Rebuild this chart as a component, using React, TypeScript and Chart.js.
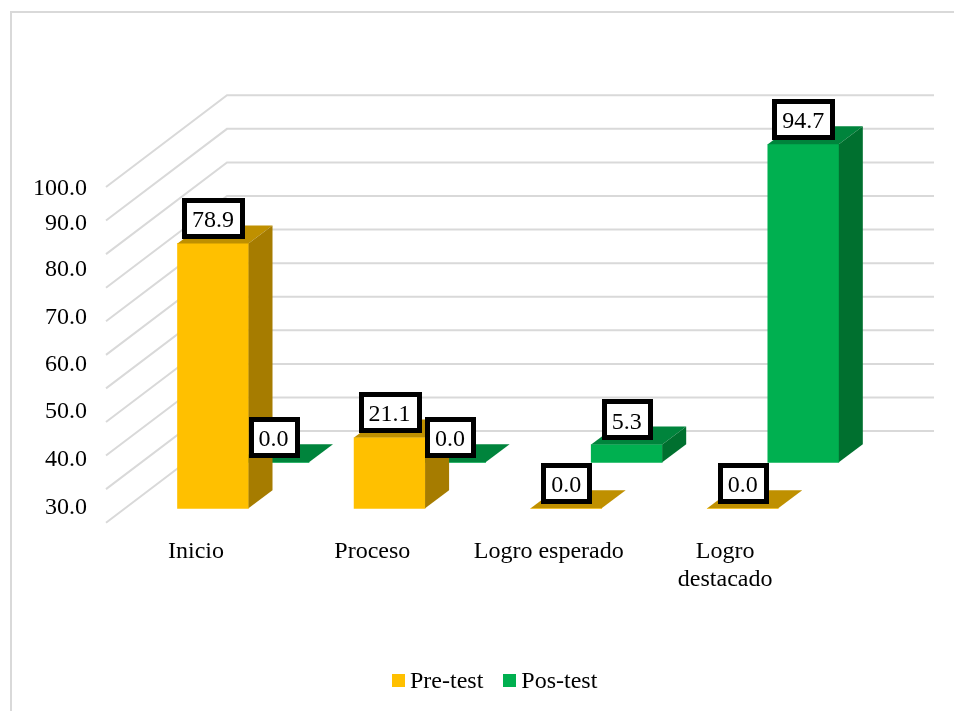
import { useEffect, useRef } from "react";
import { Chart, registerables } from "chart.js";

Chart.register(...registerables);

const categories: (string | string[])[] = ["Inicio", "Proceso", "Logro esperado", ["Logro", "destacado"]];
const preTest = [78.9, 21.1, 0.0, 0.0];
const posTest = [0.0, 0.0, 5.3, 94.7];
const axisLabels = ["30.0", "40.0", "50.0", "60.0", "70.0", "80.0", "90.0", "100.0"];

const FONT = "'Liberation Serif'";
const FONT_SIZE = 24;
const DEPTH_X = 24;
const DEPTH_Y = 18;
const WALL_X = 121;
const faces = [
  { side: "#A67C00", top: "#BF9000" },
  { side: "#00702F", top: "#00843C" },
];
// Where each axis label sits on the front-plane scale (the original's labels are unevenly spread).
const axisLabelSlots = [4.6, 18.8, 33.1, 47.2, 61.2, 75.3, 89.2, 99.45];

const threeD = {
  id: "threeD",
  beforeDraw(chart: any) {
    const { ctx } = chart;
    ctx.save();
    ctx.strokeStyle = "#D9D9D9";
    ctx.lineWidth = 2;
    ctx.strokeRect(11, 12, 980, 740);
    ctx.restore();
  },
  beforeDatasetsDraw(chart: any) {
    const { ctx, chartArea, scales } = chart;
    ctx.save();
    ctx.strokeStyle = "#D9D9D9";
    ctx.lineWidth = 2;
    const wall = scales.yWall;
    const drop = chartArea.bottom - wall.getPixelForValue(0);
    wall.ticks
      .filter((t: any) => t.value >= 0)
      .forEach((t: any) => {
        const y = wall.getPixelForValue(t.value);
        ctx.beginPath();
        ctx.moveTo(chartArea.left, y + drop);
        ctx.lineTo(chartArea.left + WALL_X, y);
        ctx.lineTo(chartArea.right, y);
        ctx.stroke();
      });
    ctx.restore();
  },
  afterDatasetDraw(chart: any, args: any) {
    const { ctx } = chart;
    const colors = faces[args.index];
    args.meta.data.forEach((bar: any) => {
      const { x, y, base, width } = bar.getProps(["x", "y", "base", "width"]);
      const l = x - width / 2;
      const r = x + width / 2;
      ctx.fillStyle = colors.top;
      ctx.beginPath();
      ctx.moveTo(l, y);
      ctx.lineTo(r, y);
      ctx.lineTo(r + DEPTH_X, y - DEPTH_Y);
      ctx.lineTo(l + DEPTH_X, y - DEPTH_Y);
      ctx.closePath();
      ctx.fill();
      if (base - y > 0) {
        ctx.fillStyle = colors.side;
        ctx.beginPath();
        ctx.moveTo(r, y);
        ctx.lineTo(r + DEPTH_X, y - DEPTH_Y);
        ctx.lineTo(r + DEPTH_X, base - DEPTH_Y);
        ctx.lineTo(r, base);
        ctx.closePath();
        ctx.fill();
      }
    });
  },
  afterDatasetsDraw(chart: any) {
    const { ctx } = chart;
    ctx.save();
    ctx.font = `${FONT_SIZE}px ${FONT}`;
    ctx.textAlign = "center";
    ctx.textBaseline = "middle";
    chart.data.datasets.forEach((ds: any, i: number) => {
      chart.getDatasetMeta(i).data.forEach((bar: any, j: number) => {
        const text = ds.data[j].y.toFixed(1);
        const { x, y } = bar.getProps(["x", "y"]);
        const cy = y - 25.3;
        const w = Math.round(ctx.measureText(text).width + 16.4);
        const h = 36;
        const bx = Math.round(x - w / 2) + 0.5;
        const by = Math.round(cy - h / 2) + 0.5;
        ctx.fillStyle = "#FFFFFF";
        ctx.fillRect(bx, by, w, h);
        ctx.strokeStyle = "#000000";
        ctx.lineWidth = 5;
        ctx.strokeRect(bx, by, w, h);
        ctx.fillStyle = "#000000";
        ctx.fillText(text, x, cy + 3);
      });
    });
    // legend
    const gapSwatch = 5;
    const gapItem = 20;
    const swatch = 13;
    const items = chart.data.datasets.map((ds: any) => ({
      label: ds.label,
      color: ds.backgroundColor,
      w: ctx.measureText(ds.label).width,
    }));
    const total =
      items.reduce((s: number, it: any) => s + swatch + gapSwatch + it.w, 0) + gapItem * (items.length - 1);
    let lx = Math.round(495 - total / 2);
    ctx.textAlign = "left";
    items.forEach((it: any) => {
      ctx.fillStyle = it.color;
      ctx.fillRect(Math.round(lx), 674, swatch, swatch);
      ctx.fillStyle = "#000000";
      ctx.fillText(it.label, lx + swatch + gapSwatch, 682);
      lx += swatch + gapSwatch + it.w + gapItem;
    });
    ctx.restore();
  },
};

const hidden = (min: number, max: number, extra: any = {}) => ({
  type: "linear",
  display: false,
  min,
  max,
  grid: { display: false },
  ...extra,
});

export default function App() {
  const ref = useRef<HTMLCanvasElement | null>(null);
  useEffect(() => {
    document.body.style.margin = "0";
    const font = { family: FONT, size: FONT_SIZE };
    const chart = new Chart(ref.current as HTMLCanvasElement, {
      type: "bar",
      data: {
        datasets: [
          {
            label: "Pre-test",
            data: preTest.map((y, x) => ({ x, y })),
            backgroundColor: "#FFC000",
            xAxisID: "xPre",
            yAxisID: "yPre",
            barThickness: 71,
            grouped: false,
          },
          {
            label: "Pos-test",
            data: posTest.map((y, x) => ({ x, y })),
            backgroundColor: "#00B050",
            xAxisID: "xPos",
            yAxisID: "yPos",
            barThickness: 71,
            grouped: false,
          },
        ],
      } as any,
      options: {
        animation: false,
        responsive: false,
        layout: { padding: { top: 95.3, right: 20, bottom: 68.3, left: 0 } },
        plugins: { legend: { display: false }, tooltip: { enabled: false } },
        scales: {
          xLabels: {
            type: "linear",
            position: "bottom",
            offset: false,
            min: -0.51,
            max: 4.184,
            grid: { display: false },
            border: { display: false },
            afterBuildTicks: (s: any) => {
              s.ticks = categories.map((_, value) => ({ value }));
            },
            afterFit: (s: any) => {
              s.height = 120;
            },
            ticks: {
              autoSkip: false,
              maxRotation: 0,
              minRotation: 0,
              padding: 7,
              color: "#000000",
              font: { ...font, lineHeight: 1.17 },
              callback: (v: any) => categories[v],
            },
          },
          xPre: hidden(-0.606, 4.083, { position: "bottom", offset: false }),
          xPos: hidden(-0.9485, 3.74, { position: "bottom", offset: false }),
          yFront: {
            type: "linear",
            position: "left",
            min: 0,
            max: 127.3,
            grid: { display: false },
            border: { display: false },
            afterBuildTicks: (s: any) => {
              s.ticks = axisLabelSlots.map((value) => ({ value }));
            },
            afterFit: (s: any) => {
              s.width = 106;
            },
            ticks: {
              autoSkip: false,
              padding: 11,
              color: "#000000",
              font,
              callback: (_v: any, i: number) => axisLabels[i],
            },
          },
          yWall: hidden(-27.3, 100, { ticks: { stepSize: 10 } }),
          yPre: hidden(-4.29, 123.01),
          yPos: hidden(-17.99, 109.31),
        },
      } as any,
      plugins: [threeD],
    });
    return () => chart.destroy();
  }, []);
  return (
    <canvas
      ref={ref}
      width={954}
      height={711}
      style={{ position: "fixed", left: 0, top: 0, display: "block" }}
    />
  );
}
